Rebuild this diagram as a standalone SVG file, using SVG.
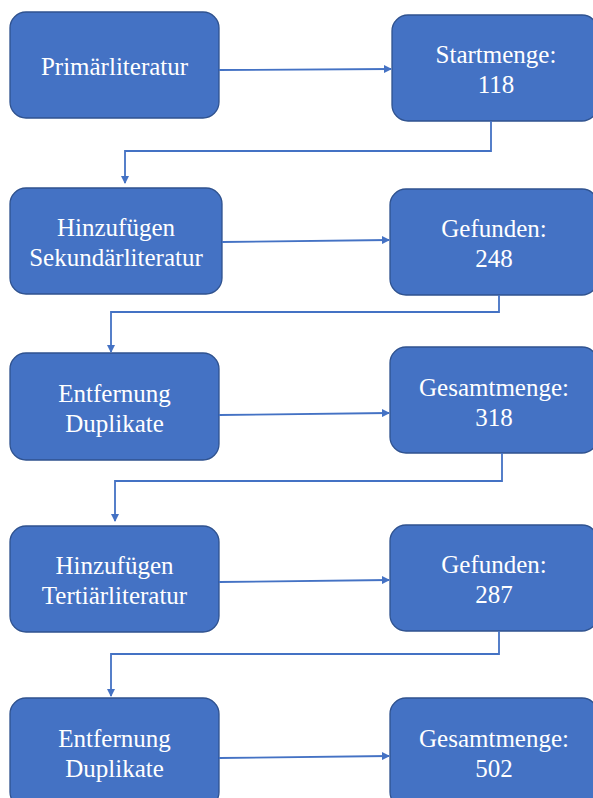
<svg xmlns="http://www.w3.org/2000/svg" width="593" height="798" viewBox="0 0 593 798">
<style>
.box{fill:#4472C4;stroke:#2F528F;stroke-width:1.3}
.t{font-family:"Liberation Serif","DejaVu Serif",serif;font-size:25px;fill:#fff;text-anchor:middle}
.c{fill:none;stroke:#4472C4;stroke-width:1.8}
</style>
<defs>
<marker id="ah" markerWidth="8" markerHeight="8" refX="7" refY="4" orient="auto" markerUnits="userSpaceOnUse">
<path d="M0,0 L8,4 L0,8 z" fill="#4472C4"/>
</marker>
</defs>
<g id="n1"><rect class="box" x="10" y="12" width="209" height="106" rx="16"/><text class="t" x="114.5" y="75">Primärliteratur</text></g>
<g id="n2"><rect class="box" x="392" y="15" width="206" height="106" rx="16"/><text class="t" x="496" y="63">Startmenge:</text><text class="t" x="496" y="93">118</text></g>
<g id="n3"><rect class="box" x="10" y="188" width="212" height="106" rx="16"/><text class="t" x="116" y="236">Hinzufügen</text><text class="t" x="116" y="266">Sekundärliteratur</text></g>
<g id="n4"><rect class="box" x="390" y="189" width="208" height="106" rx="16"/><text class="t" x="494" y="237">Gefunden:</text><text class="t" x="494" y="267">248</text></g>
<g id="n5"><rect class="box" x="10" y="353" width="209" height="107" rx="16"/><text class="t" x="114.5" y="402">Entfernung</text><text class="t" x="114.5" y="432">Duplikate</text></g>
<g id="n6"><rect class="box" x="390" y="347" width="208" height="106" rx="16"/><text class="t" x="494" y="396">Gesamtmenge:</text><text class="t" x="494" y="426">318</text></g>
<g id="n7"><rect class="box" x="10" y="526" width="209" height="106" rx="16"/><text class="t" x="114.5" y="574">Hinzufügen</text><text class="t" x="114.5" y="604">Tertiärliteratur</text></g>
<g id="n8"><rect class="box" x="390" y="525" width="208" height="106" rx="16"/><text class="t" x="494" y="573">Gefunden:</text><text class="t" x="494" y="603">287</text></g>
<g id="n9"><rect class="box" x="10" y="698" width="209" height="110" rx="16"/><text class="t" x="114.5" y="747">Entfernung</text><text class="t" x="114.5" y="777">Duplikate</text></g>
<g id="n10"><rect class="box" x="390" y="698" width="208" height="110" rx="16"/><text class="t" x="494" y="747">Gesamtmenge:</text><text class="t" x="494" y="777">502</text></g>
<g id="connectors">
<path class="c" d="M219,70 L391,69" marker-end="url(#ah)"/>
<path class="c" d="M491,121 V151 H125 V183" marker-end="url(#ah)"/>
<path class="c" d="M222,242 L389,240" marker-end="url(#ah)"/>
<path class="c" d="M499,295 V312 H111 V352" marker-end="url(#ah)"/>
<path class="c" d="M219,415 L389,413" marker-end="url(#ah)"/>
<path class="c" d="M502,453 V481 H115 V521" marker-end="url(#ah)"/>
<path class="c" d="M219,582 L389,580" marker-end="url(#ah)"/>
<path class="c" d="M499,631 V654 H111 V696" marker-end="url(#ah)"/>
<path class="c" d="M219,758 L389,756" marker-end="url(#ah)"/>
</g>
</svg>
